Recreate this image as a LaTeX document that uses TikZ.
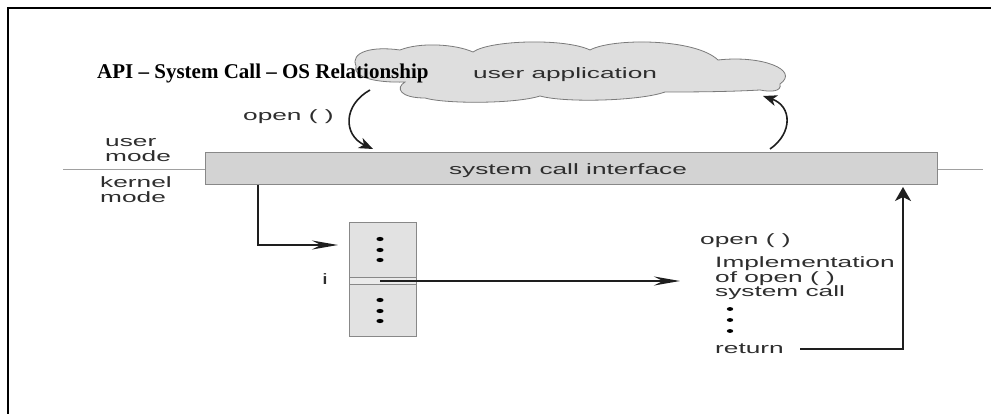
\documentclass[tikz,border=0pt]{standalone}
\usepackage{fontspec}
\usetikzlibrary{arrows.meta}
\newfontfamily\lblfont[FakeStretch=1.75]{Liberation Sans}
\newfontfamily\titlefont[Ligatures=TeX]{Liberation Serif}
\definecolor{txtgray}{HTML}{2E2E2E}
\definecolor{linedark}{HTML}{1E1E1E}
\definecolor{boxfill}{HTML}{D3D3D3}
\definecolor{boxline}{HTML}{888888}
\definecolor{cloudfill}{HTML}{DEDEDE}
\definecolor{tblfill}{HTML}{E2E2E2}
\tikzset{
  lbl/.style={font=\lblfont\fontsize{15}{15}\selectfont, text=txtgray, inner sep=0pt, anchor=base west},
  conn/.style={draw=linedark, line width=1.6pt},
  longtip/.style={-{Stealth[length=26pt,width=9pt,inset=9pt]}},
  bigtip/.style={-{Stealth[length=14pt,width=16pt,inset=4pt]}},
  curvetip/.style={-{Stealth[length=14pt,width=11pt,inset=4pt]}},
  modeline/.style={draw=boxline!80, line width=0.9pt},
  dot/.style={fill=black}
}
\begin{document}
\begin{tikzpicture}[x=1pt,y=-1pt]
\useasboundingbox (0,0) rectangle (991,414);
\fill[white] (0,0) rectangle (991,414);

% outer frame (left and top edges)
\draw[line width=2.5pt, black] (8,430) -- (8,8) -- (1010,8);

% user / kernel mode divider
\draw[modeline] (63,169) -- (205,169);
\draw[modeline] (937,169) -- (983,169);

% cloud for the user application
\filldraw[fill=cloudfill, draw=boxline!90!black, line width=0.8pt]
  (356,66) .. controls (350,52) and (372,46) .. (400,50)
  .. controls (420,42) and (455,44) .. (473,52)
  .. controls (490,40) and (565,38) .. (590,50)
  .. controls (612,38) and (695,38) .. (718,60)
  .. controls (762,55) and (800,70) .. (780,84)
  .. controls (782,92) and (770,92) .. (760,90)
  .. controls (725,92) and (685,92) .. (665,92)
  .. controls (640,101) and (565,103) .. (540,96)
  .. controls (515,104) and (445,104) .. (425,98)
  .. controls (400,98) and (395,88) .. (405,82)
  .. controls (375,83) and (352,77) .. (356,66) -- cycle;
\node[lbl] (app) at (473,79) {user application};

% title
\node[font=\titlefont\bfseries\fontsize{21}{24}\selectfont, text=black, inner sep=0pt, anchor=base west] (title) at (97,79) {API – System Call – OS Relationship};

% system call interface bar
\node[draw=boxline, fill=boxfill, line width=1pt, minimum width=732pt, minimum height=32pt, inner sep=0pt] (sci) at (571,169) {};
\node[lbl, anchor=base] (scitext) at (568,175) {system call interface};

% mode labels
\node[lbl] (um1) at (105,147) {user};
\node[lbl] (um2) at (105,162) {mode};
\node[lbl] (km1) at (100,188) {kernel};
\node[lbl] (km2) at (100,203) {mode};

% call label
\node[lbl] (opencall) at (243,121) {open ( )};

% system call table
\node[draw=boxline, fill=tblfill, line width=1pt, minimum width=67pt, minimum height=113pt, inner sep=0pt] (tbl) at (382.5,279.5) {};
\node[draw=boxline, fill=tblfill!70!white, line width=0.8pt, minimum width=67pt, minimum height=7pt, inner sep=0pt] (row) at (382.5,280.5) {};
\foreach \yy in {239,250,260,300,311,321}
  \fill[dot] (380,\yy) ellipse [x radius=3.6pt, y radius=2.1pt];
\node[lbl] (idx) at (322,284) {i};

% implementation of the call
\node[lbl] (impl0) at (700,245) {open ( )};
\node[lbl] (impl1) at (715,268) {Implementation};
\node[lbl] (impl2) at (715,283) {of open ( )};
\node[lbl] (impl3) at (715,297) {system call};
\foreach \yy in {309,320,331}
  \fill[dot] (730,\yy) ellipse [x radius=3.2pt, y radius=1.9pt];
\node[lbl] (ret) at (715,353) {return};

% anchor points of the connectors
\coordinate (callout) at (370,90);
\coordinate (callin) at (373,149);
\coordinate (backout) at (770,149);
\coordinate (backin) at (763,96);
\coordinate (dispatch) at (258,185);
\coordinate (tblin) at (338,245);
\coordinate (rowout) at (380,281);
\coordinate (implin) at (680,281);
\coordinate (retout) at (800,349);
\coordinate (retin) at (903,187);

% connectors
\draw[conn, curvetip] (callout) .. controls (343,105) and (343,135) .. (callin);
\draw[conn, curvetip] (backout) .. controls (793,133) and (792,106) .. (backin);
\draw[conn, line width=1.5pt, longtip] (dispatch) |- (tblin);
\draw[conn, line width=1.4pt, longtip] (rowout) -- (implin);
\draw[conn, line width=1.4pt, bigtip] (retout) -| (retin);
\end{tikzpicture}
\end{document}
